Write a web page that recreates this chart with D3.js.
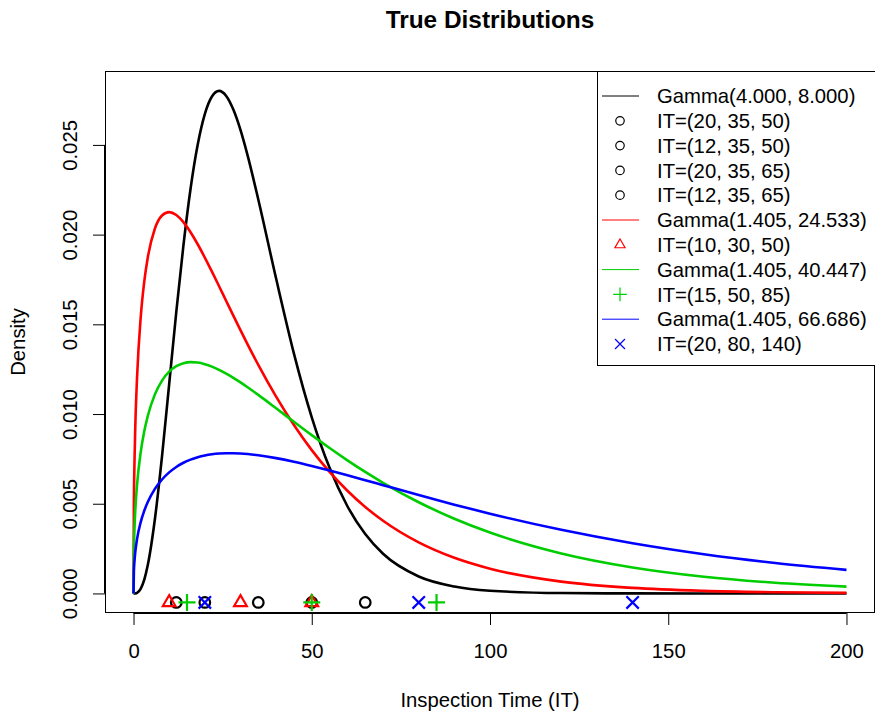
<!DOCTYPE html>
<html>
<head>
<meta charset="utf-8">
<script src="https://cdn.jsdelivr.net/npm/d3@7"></script>
<style>
  body { margin: 0; background: #fff; }
  svg { display: block; font-family: "Liberation Sans", Arial, Helvetica, sans-serif; }
</style>
</head>
<body>
<svg id="chart" width="875" height="716"></svg>
<script>
// ---- data ----
const xs = [0, 0.1, 0.25, 0.5, 1, 2, 3, 4, 6, 8, 10, 12, 14, 16, 18, 20, 22, 24, 26, 28, 30, 32, 35, 40, 45, 50, 55, 60, 65, 70, 80, 90, 100, 120, 140, 160, 180, 200];
const blackY = [0, 0, 0.0000006, 0.0000048, 0.0000359, 0.000254, 0.000755, 0.00158, 0.00415, 0.00766, 0.01166, 0.01569, 0.01940, 0.02256, 0.02501, 0.02672, 0.02770, 0.02801, 0.02773, 0.02697, 0.02584, 0.02442, 0.02196, 0.01755, 0.01337, 0.00982, 0.00700, 0.00486, 0.00331, 0.00221, 0.000946, 0.000386, 0.000152, 0.0000215, 0.0000028, 0.0000003, 0, 0];
const redY = [0, 0.004928, 0.007099, 0.009304, 0.012072, 0.015346, 0.017362, 0.018728, 0.020343, 0.021067, 0.021256, 0.021093, 0.020694, 0.020133, 0.019464, 0.018721, 0.017935, 0.017124, 0.016303, 0.015485, 0.014677, 0.013886, 0.012742, 0.010970, 0.009385, 0.007988, 0.006772, 0.005722, 0.004819, 0.004051, 0.002845, 0.001985, 0.001378, 0.000657, 0.000309, 0.0001446, 0.0000671, 0.000031];
const greenY = [0, 0.002445, 0.003531, 0.004646, 0.006077, 0.007850, 0.009025, 0.009892, 0.011095, 0.011865, 0.012361, 0.012666, 0.012832, 0.012892, 0.012869, 0.012781, 0.012643, 0.012465, 0.012255, 0.012018, 0.011764, 0.011492, 0.011066, 0.010322, 0.009568, 0.008823, 0.008104, 0.007419, 0.006772, 0.006168, 0.005084, 0.004164, 0.003394, 0.002229, 0.001447, 0.000931, 0.000596, 0.000379];
const blueY = [0, 0.001212, 0.001753, 0.002312, 0.003039, 0.003964, 0.004602, 0.005094, 0.005826, 0.006352, 0.006747, 0.007050, 0.007283, 0.007460, 0.007593, 0.007690, 0.007756, 0.007797, 0.007816, 0.007816, 0.007800, 0.007770, 0.007703, 0.007544, 0.007341, 0.007107, 0.006854, 0.006587, 0.006312, 0.006035, 0.005483, 0.004950, 0.004446, 0.003547, 0.002797, 0.002187, 0.001700, 0.001314];

const pointY = -0.0005;
const circleX = [12, 20, 35, 50, 65];
const triangleX = [10, 30, 50];
const plusX = [15, 50, 85];
const crossX = [20, 80, 140];

const xTicks = [0, 50, 100, 150, 200];
const yTicks = [0, 0.005, 0.010, 0.015, 0.020, 0.025];

const legendLabels = ["Gamma(4.000, 8.000)", "IT=(20, 35, 50)", "IT=(12, 35, 50)", "IT=(20, 35, 65)", "IT=(12, 35, 65)",
  "Gamma(1.405, 24.533)", "IT=(10, 30, 50)", "Gamma(1.405, 40.447)", "IT=(15, 50, 85)", "Gamma(1.405, 66.686)", "IT=(20, 80, 140)"];
const legendKinds = ["line", "circle", "circle", "circle", "circle", "line", "triangle", "line", "plus", "line", "cross"];
const legendColors = ["#000000", "#000000", "#000000", "#000000", "#000000", "#FF0000", "#FF0000", "#00CD00", "#00CD00", "#0000FF", "#0000FF"];

// ---- layout ----
const svg = d3.select("#chart");
const L = 105, R = 875, T = 71, B = 613;
const FS = 20.3;
const x = d3.scaleLinear().domain([-8, 208]).range([L, R]);
const y = d3.scaleLinear().domain([-0.00109, 0.02912]).range([B, T]);

// title
svg.append("text").attr("x", (L + R) / 2).attr("y", 28).attr("text-anchor", "middle")
  .attr("font-size", 24.4).attr("font-weight", "bold").text("True Distributions");

// axes
const xAxis = svg.append("g").attr("transform", `translate(0,${B})`)
  .call(d3.axisBottom(x).tickValues(xTicks).tickSize(12).tickPadding(18.5).tickSizeOuter(0).tickFormat(d3.format("d")));
xAxis.select(".domain").attr("d", `M${x(0)},0.5H${x(200)}`);
xAxis.selectAll("text").attr("font-size", FS).attr("font-family", "Liberation Sans, Arial, sans-serif").attr("fill", "#000");

const yAxis = svg.append("g").attr("transform", `translate(${L},0)`)
  .call(d3.axisLeft(y).tickValues(yTicks).tickSize(12).tickSizeOuter(0).tickFormat(d3.format(".3f")));
yAxis.select(".domain").attr("d", `M-0.5,${y(0)}V${y(0.025)}`);
yAxis.selectAll(".tick text")
  .attr("font-size", FS).attr("font-family", "Liberation Sans, Arial, sans-serif").attr("fill", "#000")
  .attr("text-anchor", "middle").attr("x", 0).attr("dy", 0)
  .attr("transform", "translate(-28,0) rotate(-90)");
svg.selectAll(".tick line").attr("stroke", "#000");
svg.selectAll(".domain").attr("stroke", "#000");

// box
svg.append("rect").attr("x", L + 0.5).attr("y", T + 0.5).attr("width", R - L - 1).attr("height", B - T - 1)
  .attr("fill", "none").attr("stroke", "#000").attr("stroke-width", 1);

// axis titles
svg.append("text").attr("x", (L + R) / 2).attr("y", 707).attr("text-anchor", "middle")
  .attr("font-size", FS).text("Inspection Time (IT)");
svg.append("text").attr("transform", `translate(25,${(T + B) / 2}) rotate(-90)`).attr("text-anchor", "middle")
  .attr("font-size", FS).text("Density");

const plot = svg.append("g");
const line = d3.line().x((d, i) => x(xs[i])).y(d => y(d)).curve(d3.curveMonotoneX);

function drawCurve(vals, color) {
  plot.append("path").datum(vals).attr("d", line).attr("fill", "none")
    .attr("stroke", color).attr("stroke-width", 2.6).attr("stroke-linejoin", "round");
}
function marker(g, kind, cx, cy, color, s, sw) {
  if (kind === "circle") {
    g.append("circle").attr("cx", cx).attr("cy", cy).attr("r", 5.3 * s).attr("fill", "none").attr("stroke", color).attr("stroke-width", sw);
  } else if (kind === "triangle") {
    const xc = 4.7 * s;
    g.append("path").attr("d", `M${cx},${cy - 1.555 * xc}L${cx + 1.347 * xc},${cy + 0.778 * xc}L${cx - 1.347 * xc},${cy + 0.778 * xc}Z`)
      .attr("fill", "none").attr("stroke", color).attr("stroke-width", sw).attr("stroke-linejoin", "miter");
  } else if (kind === "plus") {
    const h = 8.5 * s;
    g.append("path").attr("d", `M${cx - h},${cy}H${cx + h}M${cx},${cy - h}V${cy + h}`).attr("stroke", color).attr("stroke-width", sw);
  } else if (kind === "cross") {
    const h = 6.2 * s;
    g.append("path").attr("d", `M${cx - h},${cy - h}L${cx + h},${cy + h}M${cx - h},${cy + h}L${cx + h},${cy - h}`).attr("stroke", color).attr("stroke-width", sw);
  }
}

drawCurve(blackY, "#000000");
circleX.forEach(v => marker(plot, "circle", x(v), y(pointY), "#000000", 1, 2.2));
drawCurve(redY, "#FF0000");
triangleX.forEach(v => marker(plot, "triangle", x(v), y(pointY), "#FF0000", 1, 2.2));
drawCurve(greenY, "#00CD00");
plusX.forEach(v => marker(plot, "plus", x(v), y(pointY), "#00CD00", 1, 2.2));
drawCurve(blueY, "#0000FF");
crossX.forEach(v => marker(plot, "cross", x(v), y(pointY), "#0000FF", 1, 2.2));

// legend
const lg = svg.append("g");
const lgL = 597, lgT = 71, lgB = 365;
lg.append("rect").attr("x", lgL + 0.5).attr("y", lgT + 0.5).attr("width", 300).attr("height", lgB - lgT)
  .attr("fill", "#fff").attr("stroke", "#000").attr("stroke-width", 1);
const row0 = 96, rowH = 24.8;
legendLabels.forEach((lab, i) => {
  const cy = row0 + i * rowH;
  const k = legendKinds[i], c = legendColors[i];
  if (k === "line") {
    lg.append("line").attr("x1", 602).attr("x2", 639).attr("y1", cy).attr("y2", cy).attr("stroke", c).attr("stroke-width", 1);
  } else {
    marker(lg, k, 620, cy, c, 0.8, 1.2);
  }
  lg.append("text").attr("x", 657).attr("y", cy).attr("dy", "0.35em").attr("font-size", FS).text(lab);
});
</script>
</body>
</html>
